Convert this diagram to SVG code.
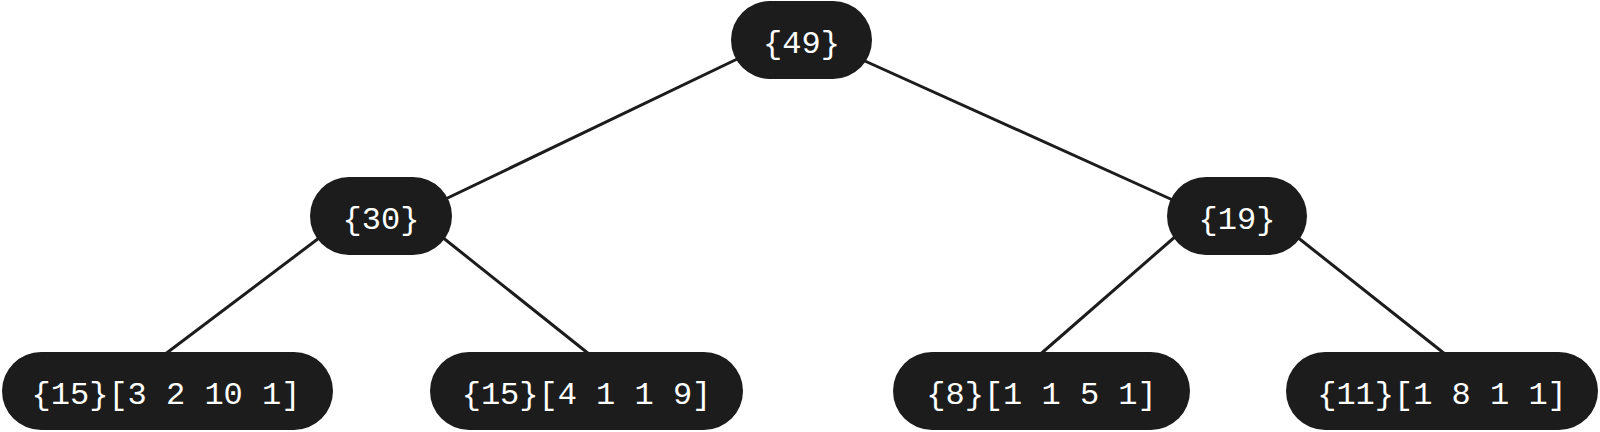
<svg xmlns="http://www.w3.org/2000/svg" width="1600" height="432" viewBox="0 0 1600 432">
<style>
.node rect{fill:#1c1c1c}
.node text{fill:#ffffff;font-family:"Liberation Mono","DejaVu Sans Mono",monospace;font-size:32px;text-anchor:middle}
.edge{stroke:#1c1c1c;stroke-width:3;fill:none}
</style>
<rect width="1600" height="432" fill="#ffffff"/>
<g id="connectors">
<line class="edge" x1="756" y1="50" x2="433" y2="205"/>
<line class="edge" x1="845" y1="52" x2="1186" y2="206"/>
<line class="edge" x1="331" y1="229" x2="160" y2="358"/>
<line class="edge" x1="432" y1="229" x2="594" y2="358"/>
<line class="edge" x1="1184" y1="229" x2="1036" y2="358"/>
<line class="edge" x1="1287" y1="229" x2="1450" y2="358"/>
</g>
<g id="n49" class="node"><rect x="731" y="1" width="141" height="78" rx="39"/><text x="801.5" y="53">{49}</text></g>
<g id="n30" class="node"><rect x="310" y="177" width="142" height="78" rx="39"/><text x="381" y="229">{30}</text></g>
<g id="n19" class="node"><rect x="1167" y="177" width="140" height="78" rx="39"/><text x="1237" y="229">{19}</text></g>
<g id="n15a" class="node"><rect x="2" y="352" width="331" height="78" rx="39"/><text x="166" y="404">{15}[3 2 10 1]</text></g>
<g id="n15b" class="node"><rect x="430" y="352" width="313" height="78" rx="39"/><text x="586.5" y="404">{15}[4 1 1 9]</text></g>
<g id="n8" class="node"><rect x="893" y="352" width="297" height="78" rx="39"/><text x="1041.5" y="404">{8}[1 1 5 1]</text></g>
<g id="n11" class="node"><rect x="1286" y="352" width="312" height="78" rx="39"/><text x="1442" y="404">{11}[1 8 1 1]</text></g>
</svg>
